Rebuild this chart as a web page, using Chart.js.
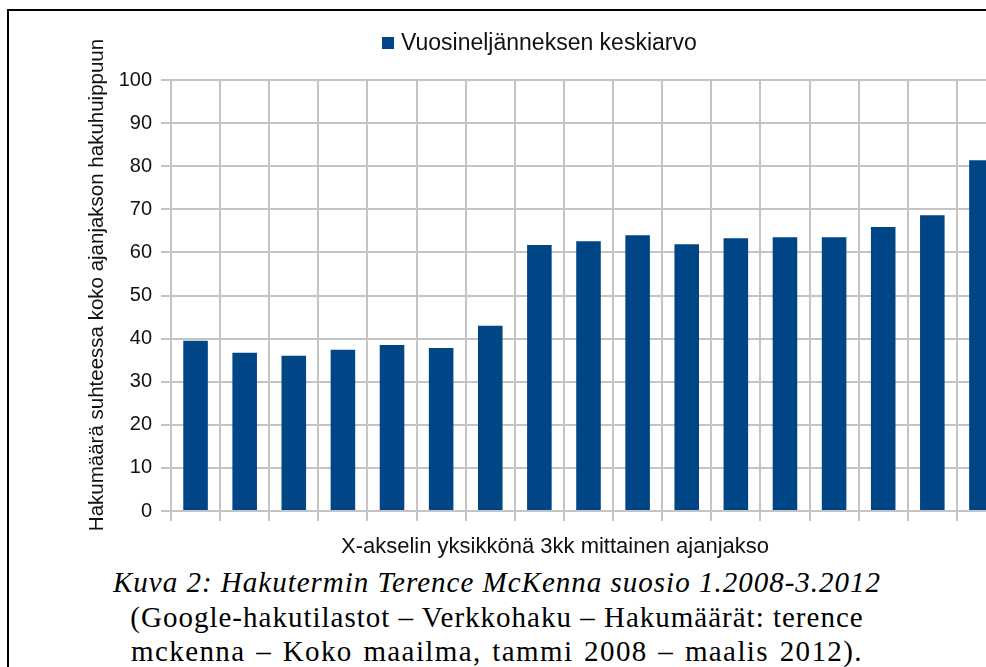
<!DOCTYPE html>
<html>
<head>
<meta charset="utf-8">
<script src="https://cdn.jsdelivr.net/npm/chart.js@4.4.1/dist/chart.umd.min.js"></script>
<style>
	html, body { margin: 0; padding: 0; background: #fff; }
	#page { position: relative; width: 986px; height: 667px; overflow: hidden; }
	#frame { position: absolute; left: 7px; top: 9px; width: 1000px; height: 700px; border-left: 2px solid #000; border-top: 2px solid #000; }
	#chartBox { position: absolute; left: 0; top: 0; width: 1010px; height: 560px; }
	#caption { position: absolute; left: 8px; width: 978px; top: 565px; text-align: center; font-family: "Liberation Serif", "Times New Roman", serif; font-size: 29px; line-height: 34.5px; letter-spacing: 1px; color: #000; white-space: nowrap; }
	#caption .title { font-style: italic; }
	#caption .last { letter-spacing: 1.4px; word-spacing: 2px; }
</style>
</head>
<body>
<div id="page">
	<div id="frame"></div>
	<div id="chartBox"><canvas id="chart" width="1010" height="560"></canvas></div>
	<div id="caption">
		<div class="title">Kuva 2: Hakutermin Terence McKenna suosio 1.2008-3.2012</div>
		<div>(Google-hakutilastot – Verkkohaku – Hakumäärät: terence</div>
		<div class="last">mckenna – Koko maailma, tammi 2008 – maalis 2012).</div>
	</div>
</div>
<script>
// quarterly averages, 1/2008 .. 1/2012 (last bar is cut off by the page edge)
const quarters = ["Q1/08", "Q2/08", "Q3/08", "Q4/08", "Q1/09", "Q2/09", "Q3/09", "Q4/09",
	"Q1/10", "Q2/10", "Q3/10", "Q4/10", "Q1/11", "Q2/11", "Q3/11", "Q4/11", "Q1/12"];
const quarterAverages = [39.5, 36.7, 36.0, 37.4, 38.5, 37.8, 43.0, 61.7, 62.6, 64.0, 61.9, 63.3, 63.5, 63.5, 65.9, 68.6, 81.4];
const yTicks = [0, 10, 20, 30, 40, 50, 60, 70, 80, 90, 100];

const seriesLabel = "Vuosineljänneksen keskiarvo";
const yTitle = "Hakumäärä suhteessa koko ajanjakson hakuhuippuun";
const xTitle = "X-akselin yksikkönä 3kk mittainen ajanjakso";

const barColor = "#004586";
const gridColor = "#c4c4c4";
const textColor = "#111";
const sansFont = "'Liberation Sans', Arial, sans-serif";

// legend and axis titles sit off-centre in the original, so they are drawn by hand
const labelsPlugin = {
	id: "labels",
	afterDraw: chart => {
		const ctx = chart.ctx;
		ctx.save();
		// legend
		ctx.fillStyle = barColor;
		ctx.fillRect(382, 37, 12, 12);
		ctx.fillStyle = textColor;
		ctx.font = `23px ${sansFont}`;
		ctx.textAlign = "left";
		ctx.textBaseline = "middle";
		ctx.fillText(seriesLabel, 401, 44);
		// x title
		ctx.font = `22px ${sansFont}`;
		ctx.textAlign = "center";
		ctx.fillText(xTitle, 555, 547);
		// y title
		ctx.translate(97, 285);
		ctx.rotate(-Math.PI / 2);
		ctx.font = `20.5px ${sansFont}`;
		ctx.fillText(yTitle, 0, 0);
		ctx.restore();
	}
};

const chart = new Chart(document.getElementById("chart"), {
	type: "bar",
	data: {
		labels: quarters,
		datasets: [{
			label: seriesLabel,
			data: quarterAverages,
			backgroundColor: barColor,
			borderWidth: 0,
			barPercentage: 0.5,
			categoryPercentage: 1
		}]
	},
	options: {
		responsive: false,
		animation: false,
		layout: {
			padding: { top: 80, right: 4, bottom: 0, left: 0 }
		},
		plugins: {
			legend: { display: false },
			tooltip: { enabled: false }
		},
		scales: {
			x: {
				grid: { color: gridColor, lineWidth: 2, tickLength: 10, offset: true },
				border: { color: gridColor, width: 2 },
				ticks: { display: false },
				afterFit: scale => { scale.height = 49; }
			},
			y: {
				min: 0,
				max: 100,
				afterBuildTicks: scale => { scale.ticks = yTicks.map(v => ({ value: v })); },
				grid: { color: gridColor, lineWidth: 2, tickLength: 10 },
				border: { color: gridColor, width: 2 },
				ticks: {
					color: textColor,
					padding: 9,
					font: { family: sansFont, size: 20 }
				},
				afterFit: scale => { scale.width = 171; }
			}
		}
	},
	plugins: [labelsPlugin]
});
</script>
</body>
</html>
